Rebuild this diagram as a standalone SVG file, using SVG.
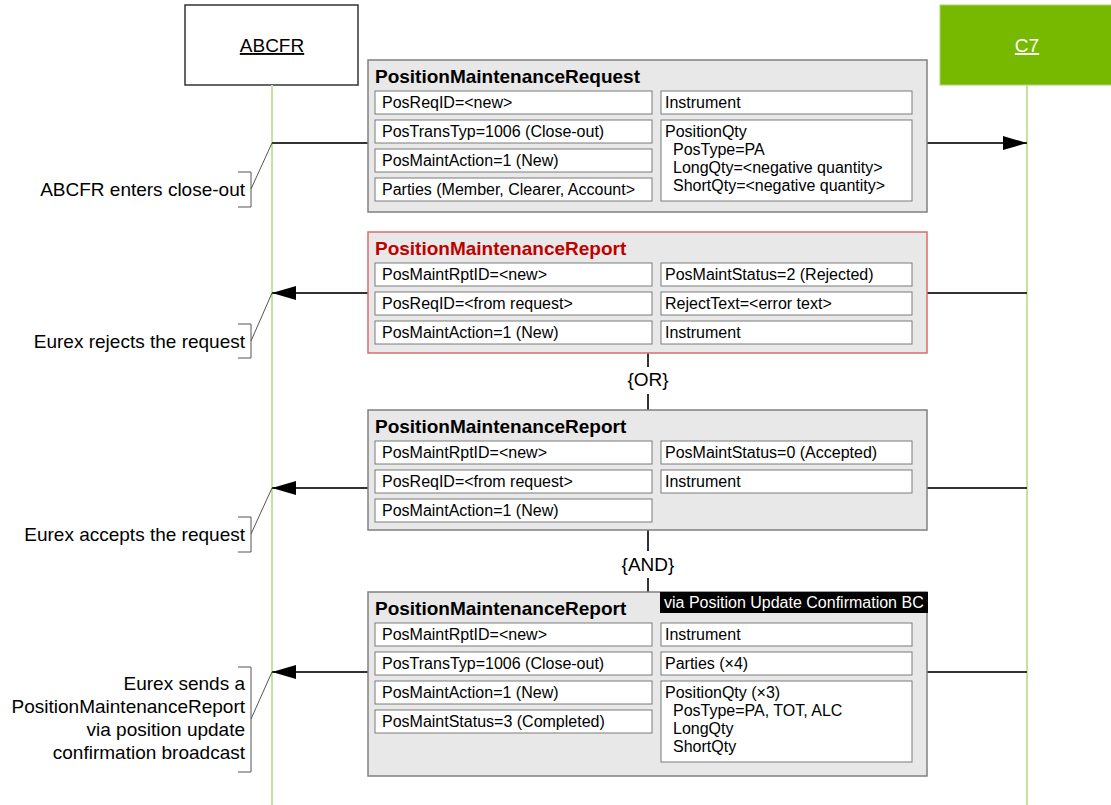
<svg xmlns="http://www.w3.org/2000/svg" width="1111" height="805" viewBox="0 0 1111 805">
<defs>
<style>
text{font-family:"Liberation Sans",Arial,sans-serif;fill:#000}
.lbl{font-size:19px;text-anchor:end}
.ttl{font-size:19px;font-weight:bold}
.fld{font-size:16px}
.box{fill:#e8e8e8;stroke:#808080;stroke-width:1.5}
.row{fill:#fff;stroke:#7a7a7a;stroke-width:1}
.life{stroke:#c5e39d;stroke-width:2;fill:none}
.msg{stroke:#333;stroke-width:2;fill:none}
.ann{stroke:#555;stroke-width:1;fill:none}
</style>
<marker id="ah" markerWidth="24" markerHeight="14" refX="24" refY="7" orient="auto" markerUnits="userSpaceOnUse">
<path d="M0,0 L24,7 L0,14 Z" fill="#000"/>
</marker>
</defs>
<rect width="1111" height="805" fill="#fff"/>

<g id="ABCFR">
<rect x="185" y="5" width="173" height="80" fill="#fff" stroke="#333" stroke-width="1.5"/>
<text x="272" y="52" font-size="19" text-anchor="middle" text-decoration="underline" fill="#333">ABCFR</text>
<line class="life" x1="272" y1="85" x2="272" y2="805"/>
</g>
<g id="C7">
<rect x="940" y="5" width="174" height="80" fill="#76b900" stroke="#a8d66a" stroke-width="1"/>
<text x="1027" y="52" font-size="19" text-anchor="middle" text-decoration="underline" style="fill:#fff">C7</text>
<line class="life" x1="1027" y1="85" x2="1027" y2="805"/>
</g>

<g id="connectors">
<line class="msg" x1="272" y1="143" x2="368" y2="143"/>
<line class="msg" x1="927" y1="143" x2="1027" y2="143" marker-end="url(#ah)"/>
<line class="msg" x1="1027" y1="293" x2="927" y2="293"/>
<line class="msg" x1="368" y1="293" x2="272" y2="293" marker-end="url(#ah)"/>
<line class="msg" x1="1027" y1="488" x2="927" y2="488"/>
<line class="msg" x1="368" y1="488" x2="272" y2="488" marker-end="url(#ah)"/>
<line class="msg" x1="1027" y1="672" x2="927" y2="672"/>
<line class="msg" x1="368" y1="672" x2="272" y2="672" marker-end="url(#ah)"/>
<line stroke="#333" stroke-width="2" x1="648" y1="353" x2="648" y2="367"/>
<line stroke="#333" stroke-width="2" x1="648" y1="394" x2="648" y2="410"/>
<line stroke="#333" stroke-width="2" x1="648" y1="530" x2="648" y2="551"/>
<line stroke="#333" stroke-width="2" x1="648" y1="578" x2="648" y2="592"/>
</g>

<g id="or-label"><text x="648" y="386" font-size="19" text-anchor="middle">{OR}</text></g>
<g id="and-label"><text x="648" y="571" font-size="19" text-anchor="middle">{AND}</text></g>

<g id="ann1">
<path class="ann" d="M238,172 H251 V207 H238 M251,189 L272,143"/>
<text class="lbl" x="245" y="196">ABCFR enters close-out</text>
</g>
<g id="ann2">
<path class="ann" d="M238,324 H251 V358 H238 M251,341 L272,293"/>
<text class="lbl" x="245" y="348">Eurex rejects the request</text>
</g>
<g id="ann3">
<path class="ann" d="M238,517 H251 V552 H238 M251,534 L272,488"/>
<text class="lbl" x="245" y="541">Eurex accepts the request</text>
</g>
<g id="ann4">
<path class="ann" d="M238,667 H251 V772 H238 M251,719 L272,672"/>
<text class="lbl" x="245" y="690">Eurex sends a</text>
<text class="lbl" x="245" y="713">PositionMaintenanceReport</text>
<text class="lbl" x="245" y="736">via position update</text>
<text class="lbl" x="245" y="759">confirmation broadcast</text>
</g>

<g id="msg1">
<rect class="box" x="368" y="60" width="559" height="152"/>
<text class="ttl" x="375" y="83">PositionMaintenanceRequest</text>
<rect class="row" x="375" y="91" width="277" height="23"/>
<text class="fld" x="382" y="108">PosReqID=&lt;new&gt;</text>
<rect class="row" x="375" y="120" width="277" height="23"/>
<text class="fld" x="382" y="137">PosTransTyp=1006 (Close-out)</text>
<rect class="row" x="375" y="149" width="277" height="23"/>
<text class="fld" x="382" y="166">PosMaintAction=1 (New)</text>
<rect class="row" x="375" y="178" width="277" height="23"/>
<text class="fld" x="382" y="195">Parties (Member, Clearer, Account&gt;</text>
<rect class="row" x="661" y="91" width="251" height="23"/>
<text class="fld" x="665" y="108">Instrument</text>
<rect class="row" x="661" y="120" width="251" height="81"/>
<text class="fld" x="665" y="137">PositionQty</text>
<text class="fld" x="673" y="155">PosType=PA</text>
<text class="fld" x="673" y="173">LongQty=&lt;negative quantity&gt;</text>
<text class="fld" x="673" y="191">ShortQty=&lt;negative quantity&gt;</text>
</g>

<g id="msg2">
<rect class="box" x="368" y="232" width="559" height="121" style="stroke:#e06a6a"/>
<text class="ttl" x="375" y="255" style="fill:#c00000">PositionMaintenanceReport</text>
<rect class="row" x="375" y="263" width="277" height="23"/>
<text class="fld" x="382" y="280">PosMaintRptID=&lt;new&gt;</text>
<rect class="row" x="375" y="292" width="277" height="23"/>
<text class="fld" x="382" y="309">PosReqID=&lt;from request&gt;</text>
<rect class="row" x="375" y="321" width="277" height="23"/>
<text class="fld" x="382" y="338">PosMaintAction=1 (New)</text>
<rect class="row" x="661" y="263" width="251" height="23"/>
<text class="fld" x="665" y="280">PosMaintStatus=2 (Rejected)</text>
<rect class="row" x="661" y="292" width="251" height="23"/>
<text class="fld" x="665" y="309">RejectText=&lt;error text&gt;</text>
<rect class="row" x="661" y="321" width="251" height="23"/>
<text class="fld" x="665" y="338">Instrument</text>
</g>

<g id="msg3">
<rect class="box" x="368" y="410" width="559" height="120"/>
<text class="ttl" x="375" y="433">PositionMaintenanceReport</text>
<rect class="row" x="375" y="441" width="277" height="23"/>
<text class="fld" x="382" y="458">PosMaintRptID=&lt;new&gt;</text>
<rect class="row" x="375" y="470" width="277" height="23"/>
<text class="fld" x="382" y="487">PosReqID=&lt;from request&gt;</text>
<rect class="row" x="375" y="499" width="277" height="23"/>
<text class="fld" x="382" y="516">PosMaintAction=1 (New)</text>
<rect class="row" x="661" y="441" width="251" height="23"/>
<text class="fld" x="665" y="458">PosMaintStatus=0 (Accepted)</text>
<rect class="row" x="661" y="470" width="251" height="23"/>
<text class="fld" x="665" y="487">Instrument</text>
</g>

<g id="msg4">
<rect class="box" x="368" y="592" width="559" height="184"/>
<rect x="660" y="592" width="268" height="21" fill="#000"/>
<text class="fld" x="664" y="608" style="fill:#fff">via Position Update Confirmation BC</text>
<text class="ttl" x="375" y="615">PositionMaintenanceReport</text>
<rect class="row" x="375" y="623" width="277" height="23"/>
<text class="fld" x="382" y="640">PosMaintRptID=&lt;new&gt;</text>
<rect class="row" x="375" y="652" width="277" height="23"/>
<text class="fld" x="382" y="669">PosTransTyp=1006 (Close-out)</text>
<rect class="row" x="375" y="681" width="277" height="23"/>
<text class="fld" x="382" y="698">PosMaintAction=1 (New)</text>
<rect class="row" x="375" y="710" width="277" height="23"/>
<text class="fld" x="382" y="727">PosMaintStatus=3 (Completed)</text>
<rect class="row" x="661" y="623" width="251" height="23"/>
<text class="fld" x="665" y="640">Instrument</text>
<rect class="row" x="661" y="652" width="251" height="23"/>
<text class="fld" x="665" y="669">Parties (×4)</text>
<rect class="row" x="661" y="681" width="251" height="81"/>
<text class="fld" x="665" y="698">PositionQty (×3)</text>
<text class="fld" x="673" y="716">PosType=PA, TOT, ALC</text>
<text class="fld" x="673" y="734">LongQty</text>
<text class="fld" x="673" y="752">ShortQty</text>
</g>
</svg>
